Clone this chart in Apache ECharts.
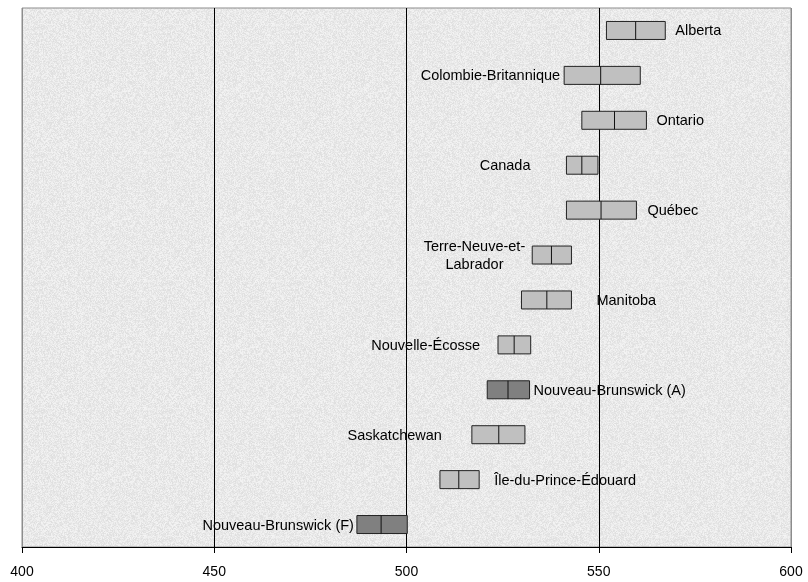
<!DOCTYPE html>
<html><head><meta charset="utf-8">
<script src="https://cdn.jsdelivr.net/npm/echarts@6/dist/echarts.min.js"></script>
<style>html,body{margin:0;padding:0;background:#fff}#c{width:808px;height:582px}</style>
</head><body><div id="c"></div>
<script>
// Data
var provinces = ['Alberta','Colombie-Britannique','Ontario','Canada','Québec','Terre-Neuve-et-\nLabrador','Manitoba','Nouvelle-Écosse','Nouveau-Brunswick (A)','Saskatchewan','Île-du-Prince-Édouard','Nouveau-Brunswick (F)'];
var lowValues  = [552, 541, 545.6, 541.6, 541.6, 532.7, 529.9, 523.8, 521, 517, 508.7, 487.1];
var meanValues = [559.6, 550.5, 554.1, 545.6, 550.6, 537.7, 536.5, 528, 526.4, 524, 513.6, 493.4];
var highValues = [567.3, 560.8, 562.4, 549.8, 559.8, 542.9, 542.9, 532.3, 532, 530.8, 518.9, 500.2];
var xTicks = [400, 450, 500, 550, 600];

// Styling (label placement)
var labelSide = ['right','left','right','left','right','left','right','left','right','left','right','left'];
var labelGap  = [10, 4, 10, 36, 11, 7, 25, 18, 4, 30, 15, 3];
var labelCentered = [false,false,false,false,false,true,false,false,false,false,false,false];
var darkRows  = [false,false,false,false,false,false,false,false,true,false,false,true];

// paper-like texture (decoration only)
function makeTexture(){
  var c=document.createElement('canvas'); c.width=128; c.height=128;
  var ctx=c.getContext('2d'); var img=ctx.createImageData(128,128); var s=12345;
  for(var k=0;k<128*128;k++){
    s=(s*1103515245+12345)&0x7fffffff; var r=(s>>16)&255;
    var v=233 + Math.round((r/255-0.5)*22);
    img.data[k*4]=v; img.data[k*4+1]=v; img.data[k*4+2]=v; img.data[k*4+3]=255;
  }
  ctx.putImageData(img,0,0); return c;
}

var rows = provinces.map(function(p,i){ return [i, lowValues[i], meanValues[i], highValues[i]]; });
var FONT = '14.5px "Liberation Sans", Arial';
var mctx = document.createElement('canvas').getContext('2d'); mctx.font = FONT;
function textWidth(t){ return Math.max.apply(null, t.split('\n').map(function(s){ return mctx.measureText(s).width; })); }

var chart = echarts.init(document.getElementById('c'), null, {renderer:'canvas'});
chart.setOption({
  animation:false,
  graphic:[{type:'rect',left:22,top:8,z:-10,silent:true,shape:{width:769,height:539},style:{fill:{image:makeTexture(),repeat:'repeat'}}}],
  grid:{left:22,right:17,top:8,bottom:35,show:true,backgroundColor:'transparent',borderColor:'#8c8c8c',borderWidth:1},
  xAxis:{type:'value',min:xTicks[0],max:xTicks[xTicks.length-1],interval:50,
    axisLine:{show:true,lineStyle:{color:'#000',width:1}},
    axisTick:{show:true,length:6,lineStyle:{color:'#000'}},
    axisLabel:{color:'#000',fontFamily:'Liberation Sans, Arial',fontSize:14,margin:18},
    splitLine:{show:true,lineStyle:{color:['#8c8c8c','#000','#000','#000','#8c8c8c'],width:1}}},
  yAxis:{type:'category',data:provinces,inverse:true,show:false,boundaryGap:true},
  series:[{
    type:'custom',
    data:rows,
    encode:{y:0,x:[1,2,3]},
    renderItem:function(params,api){
      var i=api.value(0);
      var pl=api.coord([api.value(1),i]);
      var pm=api.coord([api.value(2),i]);
      var ph=api.coord([api.value(3),i]);
      var h=18, y=pl[1];
      var fill=darkRows[i]?'#808080':'#c0c0c0';
      var side=labelSide[i], gap=labelGap[i];
      var align = side==='right'?'left':'right';
      var tx = side==='right' ? ph[0]+gap : pl[0]-gap;
      if (labelCentered[i]) {
        var w = textWidth(provinces[i]);
        tx = side==='right' ? tx + w/2 : tx - w/2;
        align = 'center';
      }
      return {type:'group',children:[
        {type:'rect',shape:{x:pl[0],y:y-h/2,width:ph[0]-pl[0],height:h},style:{fill:fill,stroke:'#222',lineWidth:1}},
        {type:'line',shape:{x1:pm[0],y1:y-h/2,x2:pm[0],y2:y+h/2},style:{stroke:'#111',lineWidth:1}},
        {type:'text',x:tx,y:y+1,style:{text:provinces[i],fill:'#000',font:FONT,
          textAlign: align,textVerticalAlign:'middle',lineHeight:18,
          align: align,verticalAlign:'middle'}}
      ]};
    }
  }]
});
</script></body></html>
